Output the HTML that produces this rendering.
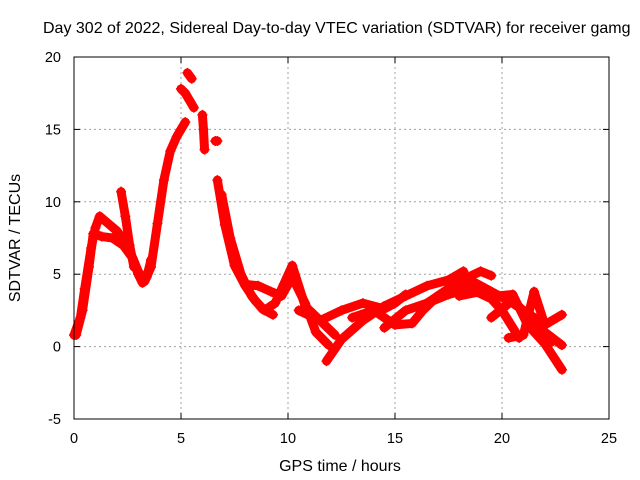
<!DOCTYPE html>
<html><head><meta charset="utf-8"><style>
body{margin:0;background:#fff;}
svg{display:block;font-family:"Liberation Sans",sans-serif;}
</style></head><body>
<svg id="chart" width="640" height="480">
<text x="43" y="33" font-size="16" fill="#000">Day 302 of 2022, Sidereal Day-to-day VTEC variation (SDTVAR) for receiver gamg</text>
<text x="340" y="471" font-size="16" text-anchor="middle">GPS time / hours</text>
<text transform="translate(20,238) rotate(-90)" font-size="16" text-anchor="middle">SDTVAR / TECUs</text>
<g id="grid"></g><g id="marks"></g>
<rect x="74" y="57" width="535" height="362" fill="none" stroke="#000"/>
<g id="ticks"></g>
</svg>
<script>
const xTicks=[0,5,10,15,20,25];
const yTicks=[-5,0,5,10,15,20];
const tracksT=[
[0,0.3,0.5,0.8,1.0,1.2,1.6,2.0,2.5,3.0,3.3,3.6,3.9,4.2,4.5,4.8,5.0,5.2],
[0.1,0.4,0.7,0.9,1.3,1.8,2.3,2.7,3.0,3.2,3.4,3.6],
[2.2,2.4,2.6,2.8],
[5.0,5.2,5.4,5.6],
[5.3,5.5],
[6.0,6.05,6.1],
[6.6,6.7],
[6.7,7.05,7.5,8.0,8.45,8.9,9.4,9.8,10.2,10.8,11.5,12.2],
[6.9,7.3,7.8,8.3,8.8,9.3],
[8.0,8.6,9.2,9.7,10.2,10.8,11.3,11.9],
[11.8,12.5,13.5,14.5,15.5,16.5,17.5,18.2],
[10.5,11.5,12.5,13.5,14.5,15,15.5],
[13,14,15,15.8,16.3,17,18,19,19.5],
[14.5,15.5,16.5,17.5,18.5,19.5,20,20.8],
[16.5,17.5,18.5,19.5,20.5,21.5,22.3],
[18,19,19.8,20.5,21.2,22,22.8],
[20.3,21,21.5,22,22.8],
[19.5,20.5,21.3,22.0,22.8]
];
const tracksV=[
[0.8,2,4,6.8,8.2,9,8.5,8,7,5.2,4.5,5.5,8.5,11.5,13.5,14.5,15,15.5],
[0.8,2.5,5.5,7.8,7.6,7.5,7.0,6.2,5.0,4.4,4.8,6.0],
[10.7,9,7,5.5],
[17.8,17.5,17.0,16.5],
[18.9,18.5],
[16,15,13.6],
[14.2,14.2],
[11.5,8.4,5.6,4.2,3.2,2.5,3.0,4.3,5.6,2.8,1.8,0.8],
[10.5,7.5,5.0,3.5,2.6,2.2],
[4.3,4.2,3.8,3.5,4.8,3.0,1.0,0.1],
[-1,0.5,1.8,2.8,3.5,4.2,4.6,5.2],
[2.5,1.8,2.5,3.0,2.6,3.0,3.6],
[2.0,2.5,1.5,1.6,2.5,3.5,4.5,5.2,4.9],
[1.3,2.5,3.0,3.6,4.0,3.3,2.5,0.6],
[3.0,4.0,4.6,3.8,3.0,2.0,0.3],
[3.5,3.8,3.5,3.6,1.5,0.2,-1.6],
[0.6,0.8,3.8,1.5,2.2],
[2.0,3.2,2.0,1.0,0.1]
];
const X0=74,X1=609,Y0=419,Y1=57;
const sx=t=>X0+(t-0)/(25-0)*(X1-X0);
const sy=v=>Y0-(v+5)/(20+5)*(Y0-Y1);
const NS="http://www.w3.org/2000/svg";
const grid=document.getElementById('grid'),ticks=document.getElementById('ticks'),marks=document.getElementById('marks');
function mk(tag,attrs,parent){const e=document.createElementNS(NS,tag);for(const k in attrs)e.setAttribute(k,attrs[k]);parent.appendChild(e);return e;}
xTicks.forEach(t=>{const x=sx(t);
 if(t>0&&t<25){const g=mk('line',{x1:x,x2:x,y1:Y1,y2:Y0,stroke:'#a0a0a0','stroke-dasharray':'2,3'},grid);
 
 }
 mk('line',{x1:x,x2:x,y1:Y0,y2:Y0-6,stroke:'#000'},ticks);mk('line',{x1:x,x2:x,y1:Y1,y2:Y1+6,stroke:'#000'},ticks);
 const l=mk('text',{x:x,y:443,'font-size':14.5,'text-anchor':'middle'},ticks);l.textContent=t;
 
 });
yTicks.forEach(v=>{const y=sy(v);
 if(v>-5&&v<20){const g=mk('line',{x1:X0,x2:X1,y1:y,y2:y,stroke:'#a0a0a0','stroke-dasharray':'2,3'},grid);
 
 }
 mk('line',{x1:X0,x2:X0+6,y1:y,y2:y,stroke:'#000'},ticks);mk('line',{x1:X1,x2:X1-6,y1:y,y2:y,stroke:'#000'},ticks);
 const l=mk('text',{x:61,y:y+5,'font-size':14.5,'text-anchor':'end'},ticks);l.textContent=v;
 
 });
tracksT.forEach((ts,i)=>{const vs=tracksV[i];
 const pts=ts.map((t,j)=>sx(t)+','+sy(vs[j])).join(' ');
 const pl=mk('polyline',{points:pts,fill:'none',stroke:'#ff0000','stroke-width':9,'stroke-linejoin':'round','stroke-linecap':'round'},marks);
 
 
 ts.forEach((t,j)=>{const x=sx(t),y=sy(vs[j]);
  const p=mk('path',{d:`M${x-5},${y}H${x+5}M${x},${y-5}V${y+5}`,stroke:'#ff0000','stroke-width':1.5},marks);
  
  });});
</script>
</body></html>
